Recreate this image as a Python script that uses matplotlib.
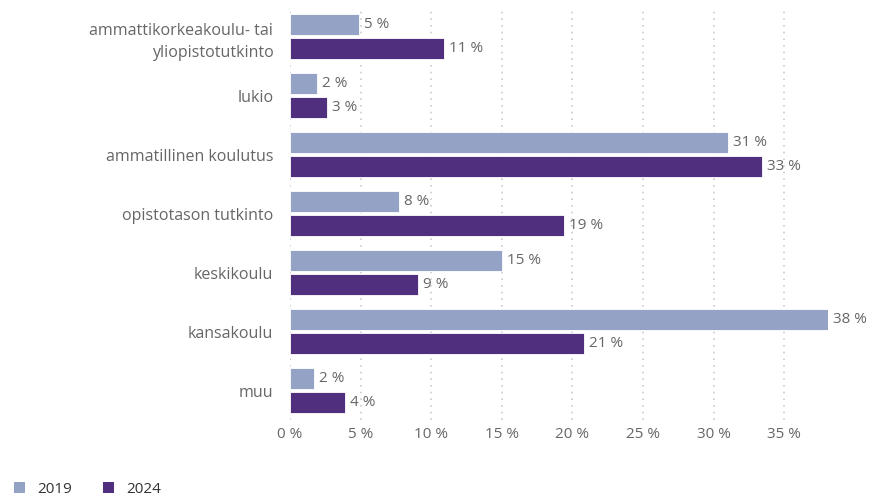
import numpy as np
import matplotlib.pyplot as plt
from matplotlib.patches import Patch

plt.rcParams['font.family'] = ['Open Sans', 'DejaVu Sans']

categories = ["ammattikorkeakoulu- tai\nyliopistotutkinto", "lukio", "ammatillinen koulutus",
              "opistotason tutkinto", "keskikoulu", "kansakoulu", "muu"]
v2019 = [4.9, 1.9, 31.0, 7.7, 15.0, 38.1, 1.7]
v2024 = [10.9, 2.6, 33.4, 19.4, 9.1, 20.8, 3.9]
years = ["2019", "2024"]
colors = ["#94a3c5", "#4f2f7e"]
text_col = "#666666"

fig = plt.figure(figsize=(8.75, 4.98), dpi=100)
ax = fig.add_axes([290/875, 1-420/498, 538/875, 413/498])

y = np.arange(len(categories))
h = 0.35
off = 0.2
ax.barh(y - off, v2019, height=h, color=colors[0], edgecolor="white", linewidth=0.6, zorder=3)
ax.barh(y + off, v2024, height=h, color=colors[1], edgecolor="white", linewidth=0.6, zorder=3)

for i in range(len(categories)):
    ax.text(v2019[i] + 0.35, y[i] - off, f"{round(v2019[i])} %", va="center", ha="left",
            fontsize=11, color=text_col)
    ax.text(v2024[i] + 0.35, y[i] + off, f"{round(v2024[i])} %", va="center", ha="left",
            fontsize=11, color=text_col)

ax.set_yticks(y)
ax.set_yticklabels(categories, fontsize=11.5, color=text_col, linespacing=1.5)
ax.set_ylim(len(categories) - 0.5, -0.5)
ax.set_xlim(0, 38.1)
ax.set_xticks(np.arange(0, 36, 5))
ax.set_xticklabels([f"{t} %" for t in range(0, 36, 5)], fontsize=11, color=text_col)
ax.tick_params(length=0, pad=5)
ax.tick_params(axis="y", pad=12)
ax.grid(axis="x", linestyle=(0, (1, 3)), color="#cccccc", linewidth=1.2, zorder=0)
for s in ax.spines.values():
    s.set_visible(False)

handles = [Patch(facecolor=c, edgecolor="none") for c in colors]
fig.legend(handles, years, loc="lower left", bbox_to_anchor=(0.0, -0.025), ncol=2, frameon=False,
           fontsize=11, labelcolor="#333333", handlelength=0.75, handleheight=0.75,
           columnspacing=2.0, handletextpad=0.8)

plt.savefig("out.png", dpi=100)
